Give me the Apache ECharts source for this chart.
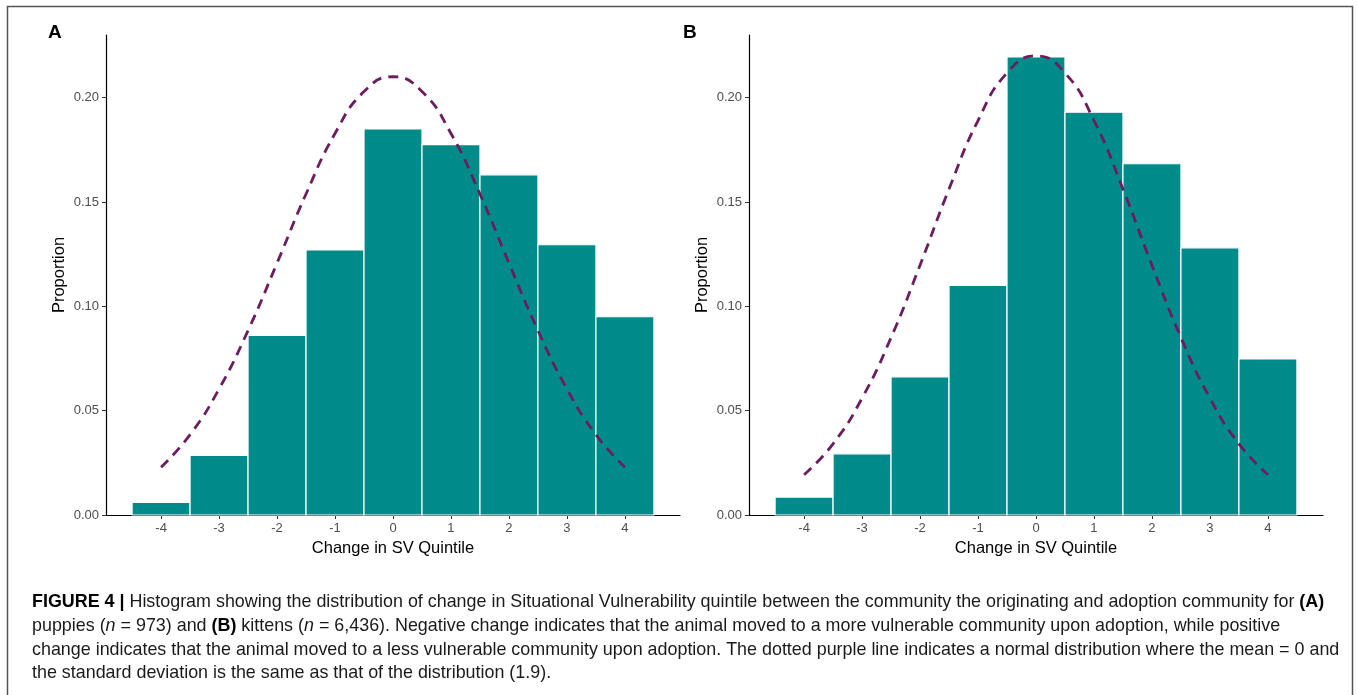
<!DOCTYPE html>
<html>
<head>
<meta charset="utf-8">
<script src="https://cdn.jsdelivr.net/npm/echarts@6/dist/echarts.min.js"></script>
<style>
html,body{margin:0;padding:0;background:#fff;}
#chart{width:1357px;height:695px;}
</style>
</head>
<body>
<div id="chart"></div>
<script>
// ---- data ----
const binCenters = [-4, -3, -2, -1, 0, 1, 2, 3, 4];
const binWidth = 1;
const propPuppies = [0.006, 0.0285, 0.086, 0.127, 0.185, 0.1775, 0.163, 0.1295, 0.095];
const propKittens = [0.0086, 0.0293, 0.0662, 0.110, 0.2195, 0.193, 0.1683, 0.128, 0.0748];
const curveX = [-4, -3.5, -3, -2.5, -2, -1.5, -1, -0.5, 0, 0.5, 1, 1.5, 2, 2.5, 3, 3.5, 4];
const curvePuppies = [0.0229, 0.0385, 0.0604, 0.0884, 0.1207, 0.1538, 0.1828, 0.2029, 0.2100, 0.2029, 0.1828, 0.1538, 0.1207, 0.0884, 0.0604, 0.0385, 0.0229];
const curveKittens = [0.0193, 0.0341, 0.0560, 0.0850, 0.1197, 0.1562, 0.1890, 0.2118, 0.2200, 0.2118, 0.1890, 0.1562, 0.1197, 0.0850, 0.0560, 0.0341, 0.0193];
const xTickLabels = [-4, -3, -2, -1, 0, 1, 2, 3, 4];
const yTickValues = [0, 0.05, 0.10, 0.15, 0.20];
const xAxisTitle = 'Change in SV Quintile';
const yAxisTitle = 'Proportion';
const captionLines = [
  '{b|FIGURE 4 |} Histogram showing the distribution of change in Situational Vulnerability quintile between the community the originating and adoption community for {b|(A)}',
  'puppies ({i|n} = 973) and {b|(B)} kittens ({i|n} = 6,436). Negative change indicates that the animal moved to a more vulnerable community upon adoption, while positive',
  'change indicates that the animal moved to a less vulnerable community upon adoption. The dotted purple line indicates a normal distribution where the mean = 0 and',
  'the standard deviation is the same as that of the distribution (1.9).'
];

const FONT = '"Liberation Sans", Arial, sans-serif';
const CAPFONT = '"Liberation Sans", Arial, sans-serif';
const CAPSIZE = 17.9;
const TEAL = '#008B8B';
const PURPLE = '#6B1D5E';

const chart = echarts.init(document.getElementById('chart'), null, {renderer: 'canvas'});

function renderBar(params, api) {
  const x = api.value(0), v = api.value(1);
  const p0 = api.coord([x - binWidth / 2, v]);
  const p1 = api.coord([x + binWidth / 2, 0]);
  return {
    type: 'rect',
    shape: {x: p0[0], y: p0[1], width: p1[0] - p0[0], height: p1[1] - p0[1]},
    style: {fill: TEAL, stroke: '#ffffff', lineWidth: 1.2}
  };
}

function xAxisCfg(gi) {
  return {
    type: 'value', gridIndex: gi, min: -4.95, max: 4.95,
    axisLine: {show: true, onZero: false, lineStyle: {color: '#000', width: 1.2}},
    axisTick: {show: true, length: 4, customValues: xTickLabels, lineStyle: {color: '#333', width: 1}},
    axisLabel: {customValues: xTickLabels, color: '#4d4d4d', fontSize: 13, margin: 7, fontFamily: FONT},
    splitLine: {show: false},
    name: xAxisTitle, nameLocation: 'middle', nameGap: 24,
    nameTextStyle: {fontSize: 16.5, color: '#000', fontFamily: FONT}
  };
}
function yAxisCfg(gi) {
  return {
    type: 'value', gridIndex: gi, min: 0, max: 0.23,
    axisLine: {show: true, onZero: false, lineStyle: {color: '#000', width: 1.2}},
    axisTick: {show: true, length: 4, customValues: yTickValues, lineStyle: {color: '#333', width: 1}},
    axisLabel: {customValues: yTickValues, color: '#4d4d4d', fontSize: 13, margin: 7, fontFamily: FONT,
      formatter: v => Number(v).toFixed(2)},
    splitLine: {show: false},
    name: yAxisTitle, nameLocation: 'middle', nameGap: 38,
    nameTextStyle: {fontSize: 16.5, color: '#000', fontFamily: FONT}
  };
}

const graphics = [
  {type: 'rect', shape: {x: 7.5, y: 6.5, width: 1345, height: 720}, style: {fill: 'none', stroke: '#555', lineWidth: 1.5}, silent: true},
  {type: 'text', x: 48, y: 33, style: {text: 'A', fontSize: 19, fontWeight: 'bold', fontFamily: FONT, fill: '#000', verticalAlign: 'middle'}},
  {type: 'text', x: 683, y: 33, style: {text: 'B', fontSize: 19, fontWeight: 'bold', fontFamily: FONT, fill: '#000', verticalAlign: 'middle'}}
];
const capY = [602, 626, 650, 673];
captionLines.forEach((t, i) => {
  graphics.push({
    type: 'text', x: 32, y: capY[i],
    style: {
      text: t, fontSize: CAPSIZE, fontFamily: CAPFONT, fill: '#1a1a1a', verticalAlign: 'middle',
      rich: {
        b: {fontWeight: 'bold', fontSize: CAPSIZE, fontFamily: CAPFONT, fill: '#000'},
        i: {fontStyle: 'italic', fontSize: CAPSIZE, fontFamily: CAPFONT, fill: '#1a1a1a'}
      }
    }
  });
});

const option = {
  backgroundColor: '#fff',
  animation: false,
  grid: [
    {left: 106, top: 35, width: 574, height: 480, outerBoundsMode: 'none'},
    {left: 749, top: 35, width: 574, height: 480, outerBoundsMode: 'none'}
  ],
  xAxis: [xAxisCfg(0), xAxisCfg(1)],
  yAxis: [yAxisCfg(0), yAxisCfg(1)],
  series: [
    {type: 'custom', xAxisIndex: 0, yAxisIndex: 0, renderItem: renderBar, encode: {x: 0, y: 1},
      data: binCenters.map((c, i) => [c, propPuppies[i]]), z: 2},
    {type: 'line', xAxisIndex: 0, yAxisIndex: 0, smooth: true, symbol: 'none', z: 3,
      lineStyle: {color: PURPLE, width: 2.8, type: [10, 7]},
      data: curveX.map((x, i) => [x, curvePuppies[i]])},
    {type: 'custom', xAxisIndex: 1, yAxisIndex: 1, renderItem: renderBar, encode: {x: 0, y: 1},
      data: binCenters.map((c, i) => [c, propKittens[i]]), z: 2},
    {type: 'line', xAxisIndex: 1, yAxisIndex: 1, smooth: true, symbol: 'none', z: 3,
      lineStyle: {color: PURPLE, width: 2.8, type: [10, 7]},
      data: curveX.map((x, i) => [x, curveKittens[i]])}
  ],
  graphic: graphics
};
chart.setOption(option);
</script>
</body>
</html>
